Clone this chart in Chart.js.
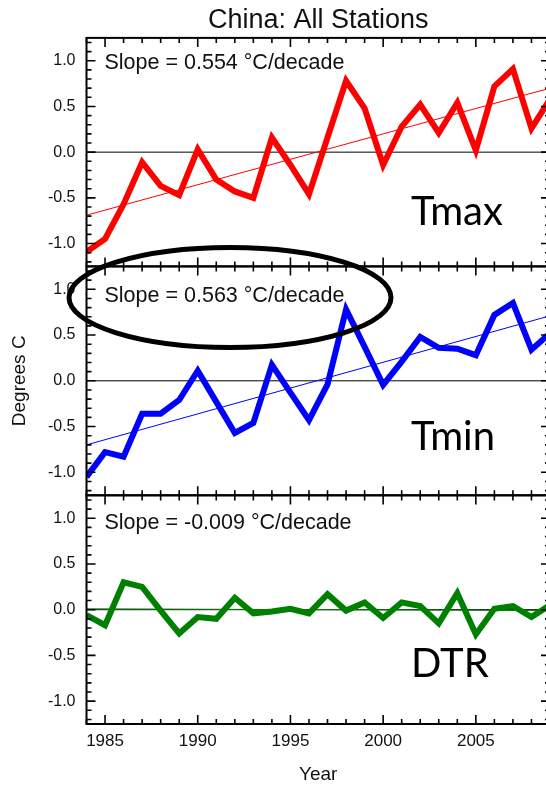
<!doctype html>
<html lang="en">
<head>
<meta charset="UTF-8">
<title>China: All Stations</title>
<style>
  html, body { margin: 0; padding: 0; background: #fff; overflow: hidden; }
  .panel { position: absolute; left: 0; top: 0; width: 556px; height: 787px; }
</style>
</head>
<body>
<div class="panel"><canvas id="tmax"></canvas></div>
<div class="panel"><canvas id="tmin"></canvas></div>
<div class="panel"><canvas id="dtr"></canvas></div>

<script src="https://cdn.jsdelivr.net/npm/chart.js@4.4.1/dist/chart.umd.min.js"></script>
<script>
  // values, one per year
  const years = [1984, 1985, 1986, 1987, 1988, 1989, 1990, 1991, 1992, 1993, 1994, 1995, 1996,
                 1997, 1998, 1999, 2000, 2001, 2002, 2003, 2004, 2005, 2006, 2007, 2008, 2009];
  const tmax = [-1.09, -0.95, -0.57, -0.11, -0.37, -0.47, 0.03, -0.30, -0.43, -0.50, 0.16, -0.14, -0.46,
                0.16, 0.78, 0.48, -0.14, 0.28, 0.52, 0.21, 0.54, 0.02, 0.72, 0.91, 0.26, 0.58];
  const tmin = [-1.05, -0.78, -0.83, -0.36, -0.36, -0.21, 0.11, -0.23, -0.57, -0.46, 0.175, -0.13, -0.43,
                -0.04, 0.78, 0.37, -0.045, 0.21, 0.48, 0.36, 0.35, 0.28, 0.72, 0.85, 0.34, 0.52];
  const dtr = [-0.06, -0.17, 0.30, 0.25, -0.01, -0.26, -0.08, -0.10, 0.13, -0.04, -0.02, 0.01, -0.04,
               0.17, -0.01, 0.08, -0.09, 0.08, 0.04, -0.15, 0.18, -0.27, 0.01, 0.04, -0.08, 0.05];

  // fitted trend lines, end points
  const trendYears = [1984, 2009];
  const tmaxTrend = [-0.69, 0.70];
  const tminTrend = [-0.70, 0.71];
  const dtrTrend = [0.01, -0.01];

  const yTicks = [-1.0, -0.5, 0.0, 0.5, 1.0];
  const yTickLabels = ['-1.0', '-0.5', '0.0', '0.5', '1.0'];
  const xTicks = [1985, 1990, 1995, 2000, 2005];
  const xTickLabels = ['1985', '1990', '1995', '2000', '2005'];

  const slopeLabels = ['Slope = 0.554 \u00B0C/decade', 'Slope = 0.563 \u00B0C/decade', 'Slope = -0.009 \u00B0C/decade'];
  const seriesNames = ['Tmax', 'Tmin', 'DTR'];

  Chart.defaults.font.family = "'Liberation Sans', Arial, sans-serif";
  Chart.defaults.color = '#111';

  function pts(xs, ys) {
    return xs.map((x, i) => ({ x: x, y: ys[i] }));
  }

  // frame with inward ticks on all four sides
  const framePlugin = {
    id: 'frame',
    afterDatasetsDraw(chart) {
      const { ctx, chartArea: a } = chart;
      const x = chart.scales.x, y = chart.scales.y;
      ctx.save();
      ctx.strokeStyle = '#000';
      ctx.lineWidth = 2;
      ctx.strokeRect(a.left, a.top, a.right - a.left, a.bottom - a.top);
      ctx.lineWidth = 1.6;
      ctx.beginPath();
      for (let yr = 1984; yr <= 2009; yr++) {
        const px = x.getPixelForValue(yr);
        const len = yr % 5 === 0 ? 9 : 5;
        ctx.moveTo(px, a.top); ctx.lineTo(px, a.top + len);
        ctx.moveTo(px, a.bottom); ctx.lineTo(px, a.bottom - len);
      }
      for (let i = -12; i <= 12; i++) {
        const py = y.getPixelForValue(i / 10);
        const len = i % 5 === 0 ? 9 : 5;
        ctx.moveTo(a.left, py); ctx.lineTo(a.left + len, py);
        ctx.moveTo(a.right, py); ctx.lineTo(a.right - len, py);
      }
      ctx.stroke();
      ctx.restore();
    }
  };

  // slope text, series name and the hand drawn ellipse
  const notePlugin = {
    id: 'notes',
    afterDraw(chart, args, o) {
      const { ctx, chartArea: a } = chart;
      ctx.save();
      ctx.fillStyle = '#111';
      ctx.textBaseline = 'middle';
      ctx.font = "21.5px 'Liberation Sans', Arial, sans-serif";
      ctx.fillText(o.slope, 104.5, a.top + o.slopeDy);
      ctx.fillStyle = '#000';
      ctx.textBaseline = 'alphabetic';
      ctx.font = "40px Lato, 'Open Sans', sans-serif";
      ctx.fillText(o.name, 411, a.top + o.nameDy);
      if (o.ellipse) {
        ctx.strokeStyle = '#000';
        ctx.lineWidth = 5;
        ctx.beginPath();
        ctx.ellipse(230, 297.5, 161, 50, 0, 0, Math.PI * 2);
        ctx.stroke();
      }
      ctx.restore();
    }
  };

  function makePanel(id, opt) {
    return new Chart(id, {
      type: 'line',
      data: {
        datasets: [
          { data: pts(trendYears, opt.trend), borderColor: opt.color, borderWidth: 1, pointRadius: 0, clip: 0 },
          { data: pts(years, opt.values), borderColor: opt.color, borderWidth: 6, pointRadius: 0, clip: 0 },
          { data: pts(trendYears, [0, 0]), borderColor: '#000', borderWidth: 1, pointRadius: 0, clip: 0 }
        ]
      },
      options: {
        responsive: true,
        maintainAspectRatio: false,
        animation: false,
        events: [],
        layout: { padding: { top: opt.top, bottom: opt.bottom, left: 0, right: 6 } },
        plugins: {
          legend: { display: false },
          tooltip: { enabled: false },
          title: opt.title ? {
            display: true,
            text: opt.title,
            fullSize: false,
            font: { size: 27, weight: 'normal' },
            color: '#111',
            padding: { top: 4.5, bottom: 1 }
          } : { display: false },
          notes: opt.notes
        },
        scales: {
          x: {
            type: 'linear',
            min: 1984,
            max: 2009,
            display: opt.showX,
            grid: { display: false, drawTicks: false },
            border: { display: false },
            afterBuildTicks: s => { s.ticks = xTicks.map(v => ({ value: v })); },
            afterFit: s => { s.height = opt.showX ? 63 : 0; },
            ticks: {
              font: { size: 17 },
              padding: 7,
              maxRotation: 0,
              callback: (v) => xTickLabels[xTicks.indexOf(v)]
            },
            title: {
              display: opt.showX,
              text: 'Year',
              font: { size: 19 },
              padding: { top: 0, bottom: 1 }
            }
          },
          y: {
            min: -1.25,
            max: 1.25,
            grid: { display: false, drawTicks: false },
            border: { display: false },
            afterBuildTicks: s => { s.ticks = yTicks.map(v => ({ value: v })); },
            afterFit: s => { s.width = 86.5; },
            ticks: {
              font: { size: 16 },
              padding: 11,
              callback: (v) => yTickLabels[yTicks.indexOf(v)]
            },
            title: opt.yTitle ? {
              display: true,
              text: opt.yTitle,
              font: { size: 19 },
              padding: { top: 8, bottom: 0 }
            } : { display: false }
          }
        }
      },
      plugins: [framePlugin, notePlugin]
    });
  }

  makePanel('tmax', {
    values: tmax, trend: tmaxTrend, color: '#ff0000',
    top: 0, bottom: 787 - 266.4, showX: false, title: 'China: All Stations',
    notes: { slope: slopeLabels[0], name: seriesNames[0], slopeDy: 25.5, nameDy: 187.2 }
  });
  makePanel('tmin', {
    values: tmin, trend: tminTrend, color: '#0000ff',
    top: 266.4, bottom: 787 - 495.2, showX: false, yTitle: 'Degrees C',
    notes: { slope: slopeLabels[1], name: seriesNames[1], slopeDy: 29.3, nameDy: 183.6, ellipse: true }
  });
  makePanel('dtr', {
    values: dtr, trend: dtrTrend, color: '#008000',
    top: 495.4, bottom: 0, showX: true,
    notes: { slope: slopeLabels[2], name: seriesNames[2], slopeDy: 28, nameDy: 181.3 }
  });
</script>
</body>
</html>
